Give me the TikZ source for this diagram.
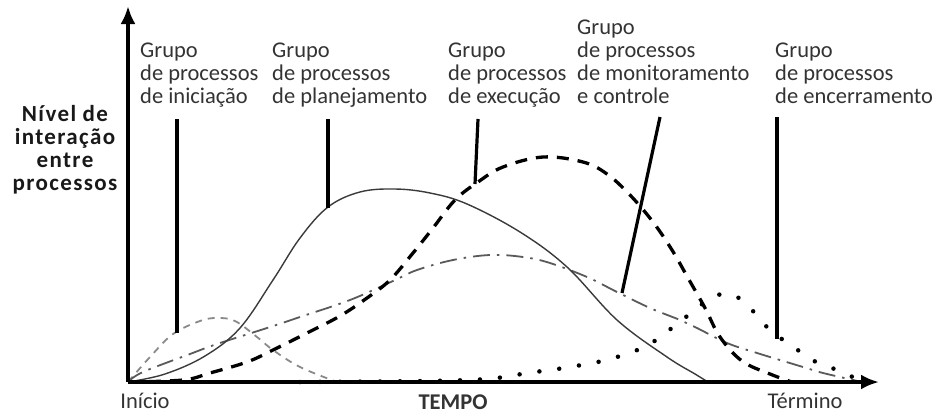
\documentclass[tikz,border=0pt]{standalone}
\usepackage{fontspec}
\setmainfont{Carlito}
\newfontfamily\spacedfont[LetterSpace=6]{Carlito}
\usetikzlibrary{arrows.meta}
\definecolor{txtgray}{HTML}{333333}
\definecolor{curvegray}{HTML}{3A3A3A}
\definecolor{lightgray}{HTML}{8A8A8A}
\definecolor{midgray}{HTML}{5A5A5A}
\begin{document}
\begin{tikzpicture}[x=1pt,y=-1pt,
  grouplbl/.style={anchor=north west, inner sep=0pt, align=left, text=txtgray,
    font=\fontsize{22.5}{23}\selectfont},
  ylbl/.style={anchor=north, inner sep=0pt, align=center, text=black!90,
    font=\spacedfont\bfseries\fontsize{23}{23}\selectfont},
  axislbl/.style={anchor=base, inner sep=0pt, text=txtgray, font=\fontsize{22.5}{23}\selectfont},
  axisline/.style={line width=3.5pt, -{Latex[length=18pt,width=15pt]}},
  leader/.style={line width=3.2pt, black},
  planning/.style={line width=1.4pt, curvegray},
  execution/.style={line width=3.3pt, black, dash pattern=on 12pt off 9pt},
  monitoring/.style={line width=1.8pt, midgray, dash pattern=on 17pt off 7pt on 2.5pt off 7pt},
  initiation/.style={line width=1.8pt, lightgray, dash pattern=on 7pt off 6pt},
  closing/.style={line width=4.5pt, black, line cap=round, dash pattern=on 0pt off 20pt},
  curvesmooth/.style={smooth, tension=0.6}
]
\useasboundingbox (0,0) rectangle (941,415);

% axes
\coordinate (origin) at (128,382);
\coordinate (ytip) at (128,6);
\coordinate (xtip) at (879,382);

% curves
\draw[initiation] plot[curvesmooth] coordinates {(128,382) (150,357) (173,334) (200,321) (217,318) (235,321) (257,337) (273,350) (300,367) (337,382)};
\draw[monitoring] plot[curvesmooth] coordinates {(128,382) (143,372) (190,354) (217,344) (267,328) (300,317) (350,300) (393,281) (417,270) (453,260) (490,255) (523,257) (550,263) (587,277) (617,292) (650,308) (680,320) (697,328) (727,343) (757,353) (803,367) (823,373) (862,382)};
\draw[closing] plot[curvesmooth] coordinates {(300,382) (423,381) (487,379) (528,373) (570,367) (610,359) (648,345) (682,320) (713,297) (733,295) (750,308) (770,330) (795,348) (812,360) (832,368) (855,378)};
\draw[execution] plot[curvesmooth] coordinates {(128,382) (183,380) (210,373) (247,362) (273,350) (307,333) (340,316) (367,298) (390,280) (413,253) (433,228) (455,200) (478,182) (503,167) (543,157) (583,162) (607,174) (630,195) (653,222) (672,250) (688,278) (705,308) (720,337) (742,361) (770,374) (792,382)};
\draw[planning] plot[curvesmooth] coordinates {(128,382) (165,374) (205,356) (240,328) (273,280) (300,238) (328,207) (360,192) (395,189) (430,193) (467,204) (520,232) (567,267) (617,320) (667,357) (695,374) (708,382)};

\draw[axisline] (origin) -- (ytip);
\draw[axisline] (origin) -- (xtip);

% labels
\node[ylbl] (ylabel) at (65,103) {\rule{0pt}{18pt}Nível de\\interação\\entre\\processos};
\node[axislbl] (inicio) at (145,408) {Início};
\node[axislbl, font=\bfseries\fontsize{22.5}{23}\selectfont] (tempo) at (453,409) {TEMPO};
\node[axislbl] (termino) at (805,408) {Término};

\node[grouplbl] (gini) at (140,39) {\rule{0pt}{18pt}Grupo\\de processos\\de iniciação};
\node[grouplbl] (gplan) at (272,39) {\rule{0pt}{18pt}Grupo\\de processos\\de planejamento};
\node[grouplbl] (gexec) at (448,39) {\rule{0pt}{18pt}Grupo\\de processos\\de execução};
\node[grouplbl] (gmon) at (577,16) {\rule{0pt}{18pt}Grupo\\de processos\\de monitoramento\\e controle};
\node[grouplbl] (genc) at (775,39) {\rule{0pt}{18pt}Grupo\\de processos\\de encerramento};

% leader lines
\coordinate (l1a) at (177,119); \coordinate (l1b) at (177,333);
\coordinate (l2a) at (328,119); \coordinate (l2b) at (328,208);
\coordinate (l3a) at (478,119); \coordinate (l3b) at (475,184);
\coordinate (l4a) at (660,117); \coordinate (l4b) at (622,293);
\coordinate (l5a) at (777,117); \coordinate (l5b) at (777,339);
\draw[leader] (l1a) -- (l1b);
\draw[leader] (l2a) -- (l2b);
\draw[leader] (l3a) -- (l3b);
\draw[leader] (l4a) -- (l4b);
\draw[leader] (l5a) -- (l5b);
\end{tikzpicture}
\end{document}
